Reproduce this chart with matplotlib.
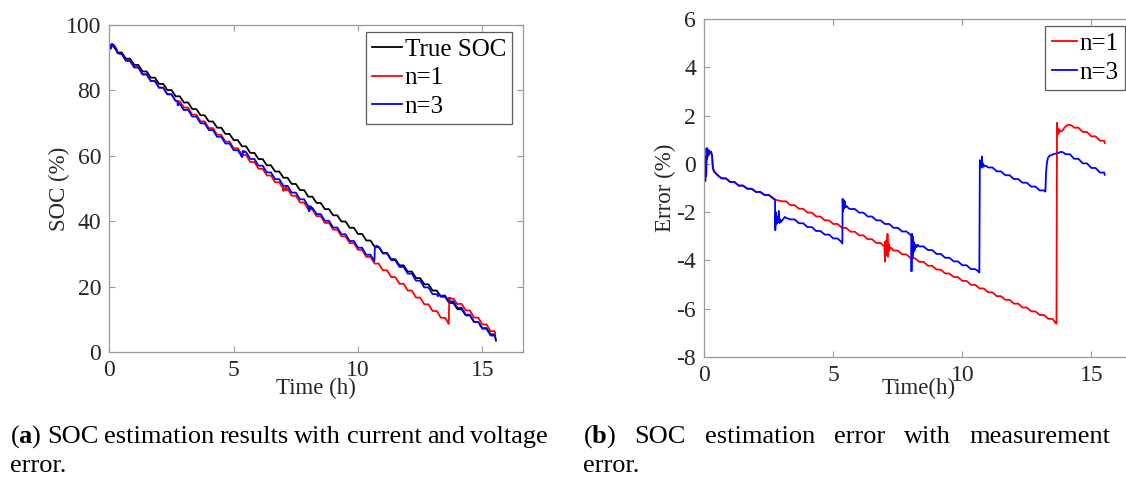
import numpy as np
import matplotlib
matplotlib.use("Agg")
import matplotlib.pyplot as plt

plt.rcParams['font.family'] = ['Liberation Serif', 'DejaVu Serif']
plt.rcParams['mathtext.fontset'] = 'custom'
plt.rcParams['mathtext.rm'] = 'Liberation Serif'
plt.rcParams['mathtext.bf'] = 'Liberation Serif:bold'
plt.rcParams['axes.unicode_minus'] = False

# ---------------- data ----------------
PERIOD = 1.0 / 3.0      # pulse period of the discharge test (h)
HOLD = 0.5              # fraction of each period the value stays flat

# True SOC level at the start of each pulse k (t = k * PERIOD)
true_soc_levels = [93.5, 91.6, 89.7, 87.8, 85.8, 83.9, 82.0, 80.1, 78.2, 76.3,
                   74.3, 72.4, 70.5, 68.6, 66.7, 64.8, 62.9, 60.9, 59.0, 57.1,
                   55.2, 53.3, 51.4, 49.5, 47.5, 45.6, 43.7, 41.8, 39.9, 38.0,
                   36.1, 34.1, 32.2, 30.3, 28.4, 26.5, 24.6, 22.6, 20.7, 18.8,
                   16.9, 15.0, 13.1, 11.2, 9.2, 7.3, 5.4]
true_soc_end = [(15.55, 3.5)]

# Error (%) - shared start of both estimators
err_start_event = [(0.04, -0.7), (0.06, 0.3), (0.07, -0.5), (0.09, 0.65), (0.11, 0.2),
                   (0.13, 0.6), (0.16, 0.35), (0.19, 0.55), (0.22, 0.45), (0.26, 0.5),
                   (0.30, 0.35), (0.33, -0.15), (0.37, -0.3), (0.45, -0.4), (0.55, -0.5)]
err_start_levels = [-0.6, -0.75, -0.9, -1.03, -1.16, -1.29]          # pulses k = 2..7

# n = 3 (blue)
n3_event1 = [(2.70, -1.45), (2.74, -1.5), (2.75, -2.75), (2.77, -2.0), (2.79, -2.5),
             (2.81, -2.2), (2.83, -2.45), (2.86, -2.35), (2.89, -1.95), (2.91, -2.45),
             (2.94, -2.3), (2.98, -2.4), (3.05, -2.3), (3.12, -2.2), (3.20, -2.25)]
n3_levels_b = [-2.3, -2.46, -2.62, -2.78, -2.93, -3.09]               # k = 10..15
n3_event2 = [(5.33, -3.25), (5.35, -3.3), (5.36, -1.45), (5.38, -1.95), (5.40, -1.5),
             (5.42, -1.85), (5.44, -1.55), (5.47, -1.8), (5.52, -1.75), (5.60, -1.85)]
n3_levels_c = [-1.87, -2.02, -2.18, -2.34, -2.49, -2.65, -2.8]        # k = 17..23
n3_event3 = [(8.00, -2.95), (8.02, -3.0), (8.03, -4.45), (8.05, -2.9), (8.07, -3.9),
             (8.09, -3.0), (8.11, -3.65), (8.13, -3.25), (8.16, -3.55), (8.19, -3.35),
             (8.23, -3.45), (8.28, -3.35)]
n3_levels_d = [-3.42, -3.57, -3.73, -3.89, -4.04, -4.2, -4.36]        # k = 25..31
n3_event4 = [(10.62, -4.45), (10.66, -4.5), (10.68, 0.15), (10.70, -0.15), (10.72, 0.05),
             (10.74, -0.1), (10.76, 0.3), (10.78, -0.15), (10.81, 0.0), (10.85, -0.1),
             (10.92, -0.08)]
n3_levels_e = [-0.15, -0.31, -0.47, -0.63, -0.78, -0.94, -1.1]        # k = 33..39
n3_event5 = [(13.22, -1.15), (13.23, -0.8), (13.25, -0.3), (13.28, 0.05), (13.32, 0.25),
             (13.38, 0.33), (13.48, 0.38), (13.60, 0.42), (13.72, 0.45), (13.82, 0.5),
             (13.92, 0.47)]
n3_levels_f = [0.4, 0.21, 0.02, -0.17, -0.36]                         # k = 42..46
n3_end = [(15.52, -0.45)]

# n = 1 (red)
n1_event1 = [(2.70, -1.45), (2.80, -1.5), (2.90, -1.52)]
n1_levels_b = [-1.55, -1.71, -1.86, -2.02, -2.18, -2.34, -2.49, -2.65, -2.81, -2.96,
               -3.12, -3.28]                                           # k = 9..20
n1_event2 = [(6.98, -3.42), (7.00, -4.05), (7.02, -3.2), (7.04, -3.8), (7.06, -3.3),
             (7.08, -3.65), (7.10, -2.9), (7.12, -3.85), (7.14, -3.3), (7.17, -3.6),
             (7.20, -3.45), (7.26, -3.5)]
n1_levels_c = [-3.59, -3.75, -3.91, -4.06, -4.22, -4.38, -4.54, -4.69, -4.85, -5.01,
               -5.16, -5.32, -5.48, -5.63, -5.79, -5.95, -6.11, -6.26, -6.42]  # k = 22..40
n1_event3 = [(13.62, -6.6), (13.65, -6.62), (13.67, 1.7), (13.69, 1.2), (13.71, 1.45),
             (13.73, 1.28), (13.76, 1.42), (13.80, 1.33), (13.88, 1.38), (13.96, 1.5),
             (14.05, 1.6), (14.15, 1.62), (14.25, 1.58)]
n1_levels_d = [1.5, 1.32, 1.14, 0.96]                                  # k = 43..46
n1_end = [(15.52, 0.86)]

legend_left = ['True SOC', 'n=1', 'n=3']
legend_right = ['n=1', 'n=3']
caption_a = [r'($\mathbf{a}$) SOC estimation results with current and voltage', 'error.']
caption_b = [r'($\mathbf{b}$) SOC estimation error with measurement', 'error.']


# ---------------- helpers ----------------
def pulses(k0, levels):
    pts = []
    for i, v in enumerate(levels):
        t = (k0 + i) * PERIOD
        pts += [(t, v), (t + HOLD * PERIOD, v)]
    return pts


def to_xy(pts):
    a = np.array(pts, dtype=float)
    return a[:, 0], a[:, 1]


t_true, soc_true = to_xy(pulses(0, true_soc_levels) + true_soc_end)

common = err_start_event + pulses(2, err_start_levels)
t_n3, e_n3 = to_xy(common + n3_event1 + pulses(10, n3_levels_b) + n3_event2 +
                   pulses(17, n3_levels_c) + n3_event3 + pulses(25, n3_levels_d) +
                   n3_event4 + pulses(33, n3_levels_e) + n3_event5 +
                   pulses(42, n3_levels_f) + n3_end)
t_n1, e_n1 = to_xy(common + n1_event1 + pulses(9, n1_levels_b) + n1_event2 +
                   pulses(22, n1_levels_c) + n1_event3 + pulses(43, n1_levels_d) + n1_end)


def estimate(t_err, err):
    t = np.union1d(t_err, t_true[(t_true >= t_err[0]) & (t_true <= t_err[-1])])
    return t, np.interp(t, t_true, soc_true) + np.interp(t, t_err, err)


t_s1, soc_n1 = estimate(t_n1, e_n1)
t_s3, soc_n3 = estimate(t_n3, e_n3)

# ---------------- figure ----------------
fig = plt.figure(figsize=(11.26, 4.84), dpi=100)
ax1 = fig.add_axes([0.0971, 0.2727, 0.3677, 0.6756])
ax2 = fig.add_axes([0.6255, 0.2624, 0.3815, 0.6983])

TXT = '#262626'
EDGE = '#9a9a9a'


def style(ax):
    for s in ax.spines.values():
        s.set_color(EDGE)
        s.set_linewidth(0.9)
    ax.tick_params(direction='in', top=True, right=True, length=4, width=0.8,
                   color=EDGE, labelsize=17, labelcolor=TXT, pad=6)
    ax.set_facecolor('white')


lw = 1.3
l0, = ax1.plot(t_true, soc_true, color='black', lw=lw)
l1, = ax1.plot(t_s1, soc_n1, color='#ff0000', lw=lw)
l3, = ax1.plot(t_s3, soc_n3, color='#0000ff', lw=lw)
ax1.set_xlim(0, 16.65)
ax1.set_ylim(0, 100)
ax1.set_xticks([0, 5, 10, 15])
ax1.set_yticks([0, 20, 40, 60, 80, 100])
style(ax1)
ax1.set_xlabel('Time (h)', fontsize=16.5, color=TXT, va='center')
ax1.xaxis.set_label_coords(0.5, -0.112)
ax1.set_ylabel('SOC (%)', fontsize=16.5, color=TXT, va='center')
ax1.yaxis.set_label_coords(-0.121, 0.5)
leg1 = ax1.legend([l0, l1, l3], legend_left, loc='upper right',
                  bbox_to_anchor=(0.973, 0.979), borderaxespad=0, fontsize=18,
                  frameon=True, fancybox=False, handlelength=1.2, handletextpad=0.1,
                  labelspacing=0.25, borderpad=0.25)
leg1.get_frame().set_edgecolor('#333333')
leg1.get_frame().set_linewidth(0.9)

r1, = ax2.plot(t_n1, e_n1, color='#ff0000', lw=lw)
r3, = ax2.plot(t_n3, e_n3, color='#0000ff', lw=lw)
ax2.set_xlim(0, 16.65)
ax2.set_ylim(-8, 6)
ax2.set_xticks([0, 5, 10, 15])
ax2.set_yticks([-8, -6, -4, -2, 0, 2, 4, 6])
style(ax2)
ax2.set_xlabel('Time(h)', fontsize=16.5, color=TXT, va='center')
ax2.xaxis.set_label_coords(0.5, -0.094)
ax2.set_ylabel('Error (%)', fontsize=16.5, color=TXT, va='center')
ax2.yaxis.set_label_coords(-0.09, 0.5)
leg2 = ax2.legend([r1, r3], legend_right, loc='upper left',
                  bbox_to_anchor=(0.794, 0.979), borderaxespad=0, fontsize=18,
                  frameon=True, fancybox=False, handlelength=1.0, handletextpad=0.1,
                  labelspacing=0.25, borderpad=0.25)
leg2.get_frame().set_edgecolor('#333333')
leg2.get_frame().set_linewidth(0.9)

# captions (first line justified to the column width, as in the paper)
W, H = 1126, 484
CAP_FS = 19
renderer = fig.canvas.get_renderer()


def justified(x0, x1, y, line, fs):
    words = line.split(' ')
    texts = [fig.text(0, 1 - y / H, w, fontsize=fs, va='center', ha='left')
             for w in words]
    widths = [t.get_window_extent(renderer).width for t in texts]
    gap = ((x1 - x0) - sum(widths)) / (len(words) - 1)
    x = x0
    for t, w in zip(texts, widths):
        t.set_x(x / W)
        x += w + gap


justified(10, 548, 437, caption_a[0], CAP_FS)
fig.text(10 / W, 1 - 466 / H, caption_a[1], fontsize=CAP_FS, va='center', ha='left')
justified(583, 1110, 437, caption_b[0], CAP_FS)
fig.text(583 / W, 1 - 466 / H, caption_b[1], fontsize=CAP_FS, va='center', ha='left')

fig.savefig('out.png', dpi=100, facecolor='white')
